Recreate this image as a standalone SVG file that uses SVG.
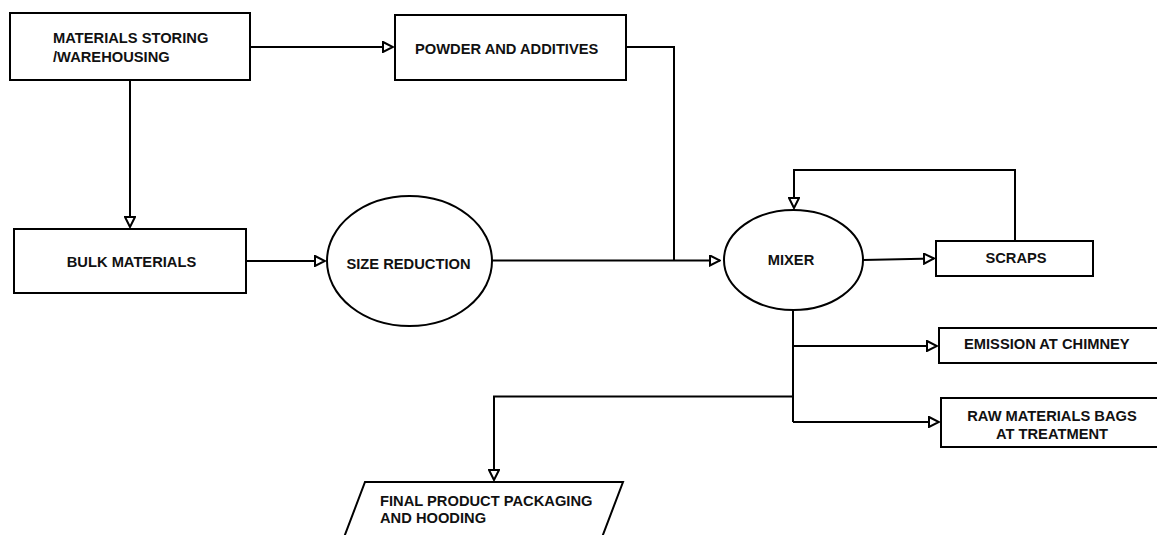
<svg xmlns="http://www.w3.org/2000/svg" width="1157" height="535" viewBox="0 0 1157 535">
<style>
.n{fill:#fff;stroke:#000;stroke-width:2}
.t{font-family:"Liberation Sans",Arial,sans-serif;font-weight:bold;font-size:14.7px;fill:#111}
.c{fill:none;stroke:#000;stroke-width:2}
</style>
<defs>
<marker id="a" markerWidth="12" markerHeight="12" refX="10" refY="5" orient="auto" markerUnits="userSpaceOnUse" viewBox="-1 -1 12 12">
<path d="M0,0 L10,5 L0,10 Z" fill="#fff" stroke="#000" stroke-width="2"/>
</marker>
</defs>
<rect width="1157" height="535" fill="#fff"/>
<g id="connectors">
<path class="c" d="M250,47 H393" marker-end="url(#a)"/>
<path class="c" d="M130,80 V227" marker-end="url(#a)"/>
<path class="c" d="M626,47 H674 V260.5"/>
<path class="c" d="M246,261 H325" marker-end="url(#a)"/>
<path class="c" d="M492,260.5 H720" marker-end="url(#a)"/>
<path class="c" d="M863,260 L934,258.5" marker-end="url(#a)"/>
<path class="c" d="M1015,241 V170 H794 V208" marker-end="url(#a)"/>
<path class="c" d="M793,310 V422"/>
<path class="c" d="M793,346 H937" marker-end="url(#a)"/>
<path class="c" d="M793,422 H939" marker-end="url(#a)"/>
<path class="c" d="M793,396.5 H494 V480" marker-end="url(#a)"/>
</g>
<g id="materials-storing">
<rect class="n" x="10" y="13" width="240" height="67"/>
<text class="t" x="53" y="43">MATERIALS STORING</text>
<text class="t" x="53" y="62">/WAREHOUSING</text>
</g>
<g id="powder-additives">
<rect class="n" x="395" y="15" width="231" height="65"/>
<text class="t" x="415" y="54">POWDER AND ADDITIVES</text>
</g>
<g id="bulk-materials">
<rect class="n" x="14" y="229" width="232" height="64"/>
<text class="t" x="131.5" y="266.5" text-anchor="middle">BULK MATERIALS</text>
</g>
<g id="size-reduction">
<ellipse class="n" cx="409.5" cy="261" rx="82.5" ry="65"/>
<text class="t" x="408.5" y="268.5" text-anchor="middle">SIZE REDUCTION</text>
</g>
<g id="mixer">
<ellipse class="n" cx="793.5" cy="260" rx="69.5" ry="50"/>
<text class="t" x="791" y="265" text-anchor="middle">MIXER</text>
</g>
<g id="scraps">
<rect class="n" x="936" y="241" width="157" height="35"/>
<text class="t" x="1016" y="263" text-anchor="middle">SCRAPS</text>
</g>
<g id="emission">
<rect class="n" x="939" y="328" width="230" height="35"/>
<text class="t" x="964" y="349">EMISSION AT CHIMNEY</text>
</g>
<g id="raw-materials-bags">
<rect class="n" x="941" y="398" width="230" height="49"/>
<text class="t" x="1052" y="421" text-anchor="middle">RAW MATERIALS BAGS</text>
<text class="t" x="1052" y="438.5" text-anchor="middle">AT TREATMENT</text>
</g>
<g id="final-product">
<polygon class="n" points="365,482 623,482 601,540 343,540"/>
<text class="t" x="380" y="506">FINAL PRODUCT PACKAGING</text>
<text class="t" x="380" y="523">AND HOODING</text>
</g>
</svg>
